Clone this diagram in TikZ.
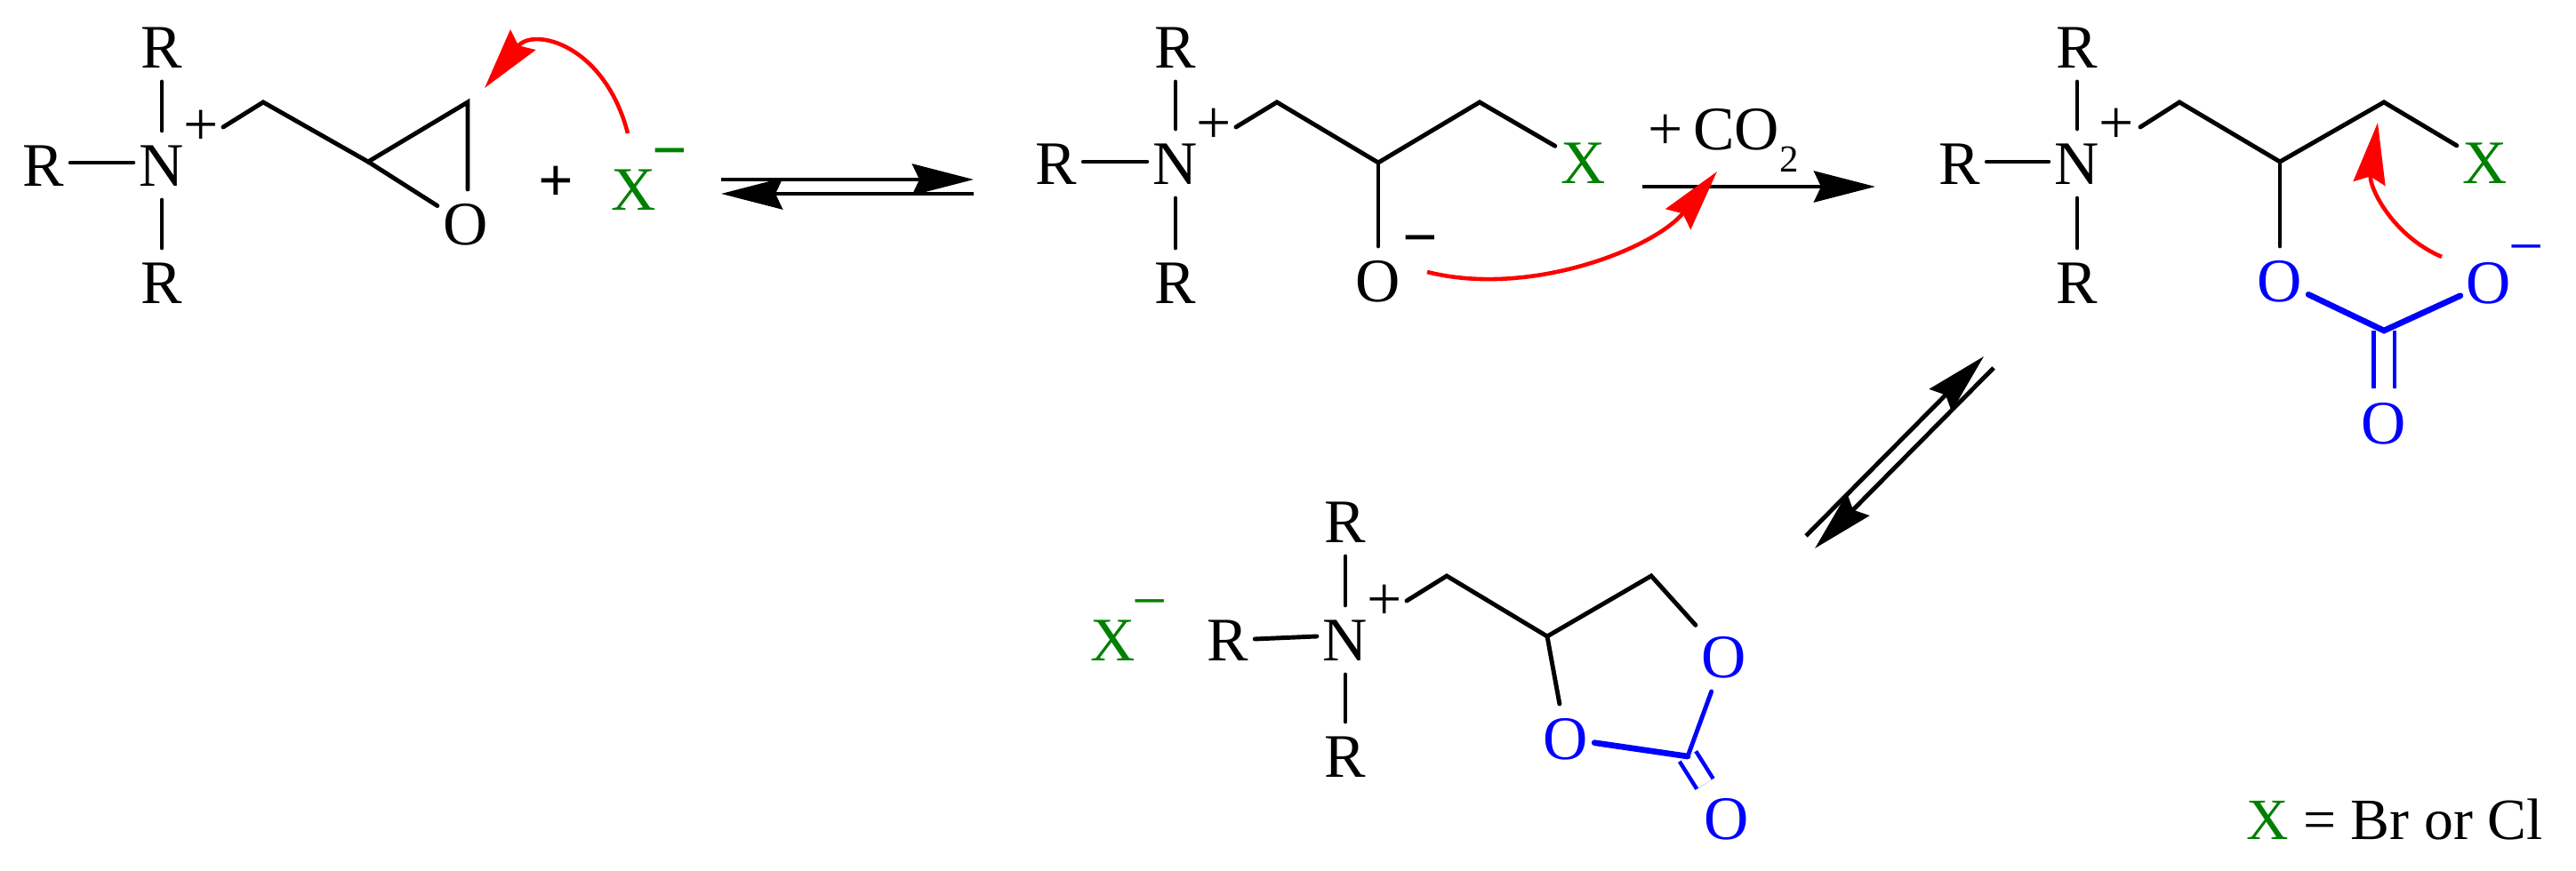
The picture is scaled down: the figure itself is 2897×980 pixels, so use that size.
\documentclass[tikz,border=0pt]{standalone}
\usepackage{fontspec}
\setmainfont{Liberation Serif}
\usepackage{xcolor}
\usetikzlibrary{arrows.meta, positioning}
\definecolor{chemgreen}{RGB}{0,128,0}
\tikzset{
  atom/.style={font=\fontsize{19.8}{24}\selectfont, text height=0.46cm, text depth=0pt, inner xsep=0.07cm, inner ysep=0.16cm, outer sep=0pt},
  sign/.style={font=\fontsize{19.8}{24}\selectfont, inner sep=0pt},
  bond/.style={line width=1.4pt, line cap=round, line join=miter},
  dblbond/.style={line width=1.3pt, line cap=butt, blue, double},
  thickbond/.style={line width=1.9pt, line cap=round, line join=miter, blue},
  eqarrow/.style={line width=1.4pt, -{Stealth[length=0.69cm,width=0.35cm,inset=0.08cm]}},
  redarrow/.style={line width=1.3pt, red, -{Stealth[length=0.69cm,width=0.36cm,inset=0.08cm]}}
}
\begin{document}
\begin{tikzpicture}[x=0.01cm,y=-0.01cm]
        \useasboundingbox (0,0) rectangle (2897,980);

        \node[atom] (n1) at (182,186) {N};
        \node[atom] (rt1) at (182,53) {R};
        \node[atom] (rl1) at (49,186) {R};
        \node[atom] (rb1) at (182,318) {R};
        \node[sign] (p1) at (226,144) {+};
        \node[atom] (o1) at (524,252) {O};
        \coordinate (a1) at (251,143);
        \coordinate (a2) at (296,115);
        \coordinate (a3) at (414,182);
        \coordinate (a4) at (526,115);
        \draw[bond] (rt1) -- (n1);
        \draw[bond] (n1) -- (rb1);
        \draw[bond] ([yshift=0.03cm]rl1.east) -- ([yshift=0.03cm]n1.west);
        \draw[bond] (a1) -- (a2) -- (a3) -- (a4) -- (a4 |- o1.north);
        \draw[bond] (a3) -- (o1);
        \node[sign] (plus1) at (625,207) {\textbf{+}};
        \node[atom,chemgreen] (x1) at (713,213) {X};
        \node[sign,chemgreen] (m1) at (753,180) {\textbf{−}};
        \coordinate (s1) at (706,150);
        \coordinate (t1) at (545,99);
        \draw[redarrow] (s1) .. controls (680,50) and (600,30) .. (t1);

        \coordinate (e1) at (811,202);
        \coordinate (e2) at (1095,202);
        \coordinate (e3) at (1095,218);
        \coordinate (e4) at (811,218);
        \draw[eqarrow] (e1) -- (e2);
        \draw[eqarrow] (e3) -- (e4);

        \node[atom] (n2) at (1322,184) {N};
        \node[atom] (rt2) at (1322,53) {R};
        \node[atom] (rl2) at (1188,184) {R};
        \node[atom] (rb2) at (1322,318) {R};
        \node[sign] (p2) at (1365,142) {+};
        \node[atom] (o2) at (1550,316) {O};
        \node[atom,chemgreen] (x2) at (1781,183) {X};
        \node[sign] (m2) at (1597,278) {\textbf{−}};
        \coordinate (b1) at (1390,143);
        \coordinate (b2) at (1436,115);
        \coordinate (b3) at (1550,183);
        \coordinate (b4) at (1664,115);
        \draw[bond] (rt2) -- (n2);
        \draw[bond] (n2) -- (rb2);
        \draw[bond] ([yshift=0.02cm]rl2.east) -- ([yshift=0.02cm]n2.west);
        \draw[bond] (b1) -- (b2) -- (b3) -- (b4) -- (x2);
        \draw[bond] (b3) -- (o2);
        \node[atom] (co2) at (1938,145) {+\,CO\raisebox{-0.25cm}{\fontsize{12.2}{14}\selectfont 2}};
        \coordinate (f1) at (1847,210);
        \coordinate (f2) at (2109,210);
        \draw[eqarrow] (f1) -- (f2);
        \coordinate (s2) at (1605,306);
        \coordinate (t2) at (1931,193);
        \draw[redarrow] (s2) .. controls (1720,335) and (1860,280) .. (t2);

        \node[atom] (n3) at (2336,184) {N};
        \node[atom] (rt3) at (2336,53) {R};
        \node[atom] (rl3) at (2204,184) {R};
        \node[atom] (rb3) at (2336,318) {R};
        \node[sign] (p3) at (2380,142) {+};
        \node[atom,chemgreen] (x3) at (2795,183) {X};
        \node[atom,blue] (o3) at (2564,316) {O};
        \node[atom,blue] (o4) at (2799,318) {O};
        \node[atom,blue] (o5) at (2681,476) {O};
        \node[sign,blue] (m3) at (2841,288) {−};
        \coordinate (c1) at (2407,143);
        \coordinate (c2) at (2451,115);
        \coordinate (c3) at (2564,182);
        \coordinate (c4) at (2681,115);
        \coordinate (c5) at (2681,372);
        \draw[bond] (rt3) -- (n3);
        \draw[bond] (n3) -- (rb3);
        \draw[bond] ([yshift=0.02cm]rl3.east) -- ([yshift=0.02cm]n3.west);
        \draw[bond] (c1) -- (c2) -- (c3) -- (c4) -- (x3);
        \draw[bond] (c3) -- (o3);
        \draw[dblbond,double distance=0.19cm] (c5) -- (o5);
        \draw[thickbond] (o3) -- (c5) -- (o4);
        \coordinate (s3) at (2746,289);
        \coordinate (t3) at (2674,138);
        \draw[redarrow] (s3) .. controls (2690,265) and (2664,210) .. (t3);

        \coordinate (g1) at (2031,603);
        \coordinate (g2) at (2231,401);
        \coordinate (g3) at (2242,414);
        \coordinate (g4) at (2041,617);
        \draw[eqarrow] (g1) -- (g2);
        \draw[eqarrow] (g3) -- (g4);

        \node[atom,chemgreen] (x4) at (1252,720) {X};
        \node[sign,chemgreen] (m4) at (1293,687) {−};
        \node[atom] (n4) at (1513,720) {N};
        \node[atom] (rt4) at (1513,587) {R};
        \node[atom] (rl4) at (1381,720) {R};
        \node[atom] (rb4) at (1513,851) {R};
        \node[sign] (p4) at (1557,678) {+};
        \node[atom,blue] (o6) at (1939,739) {O};
        \node[atom,blue] (o7) at (1761,831) {O};
        \node[atom,blue] (o8) at (1942,921) {O};
        \coordinate (d1) at (1582,676);
        \coordinate (d2) at (1627,648);
        \coordinate (d3) at (1740,716);
        \coordinate (d4) at (1857,648);
        \coordinate (d5) at (1898,851);
        \draw[bond] (rt4) -- (n4);
        \draw[bond] (n4) -- (rb4);
        \draw[bond] ([yshift=0.01cm]rl4.east) -- ([yshift=0.04cm]n4.west);
        \draw[bond] (d1) -- (d2) -- (d3) -- (d4) -- (o6);
        \draw[bond] (d3) -- (o7);
        \draw[dblbond,double distance=0.17cm] (d5) -- (o8);
        \draw[thickbond] (o7) -- (d5);
        \draw[bond,blue] (d5) -- (o6);

        \node[atom,font=\fontsize{18.7}{22}\selectfont] (legend) at (2693,921) {\textcolor{chemgreen}{X} = Br or Cl};
      \end{tikzpicture}
\end{document}
